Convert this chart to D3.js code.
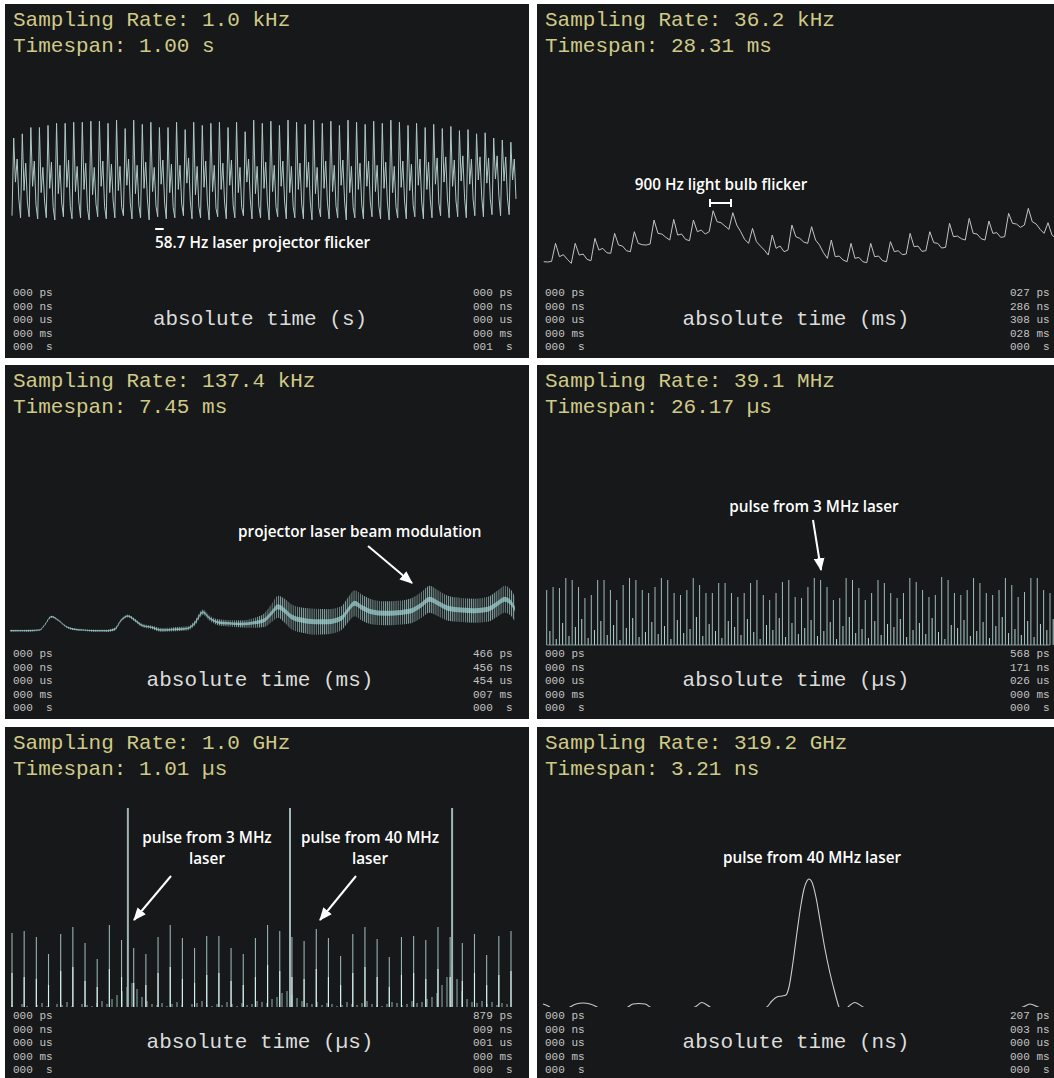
<!DOCTYPE html>
<html lang="en">
<head>
    <meta charset="UTF-8">
    <script src="https://d3js.org/d3.v7.min.js"></script>
    <title>Sampling rate zoom panels</title>
    <style>
        body { margin: 0; background: #ffffff; }
        svg { display: block; }
        .mono { font-family: "Liberation Mono", "DejaVu Sans Mono", monospace; white-space: pre; }
        .note { font-family: "Open Sans", "Noto Sans", sans-serif; font-weight: 600; font-size: 15.3px; fill: #ffffff; }
    </style>
</head>
<body>
<div id="viz"></div>
<script>
    // ---- panel texts
    let samplingRates = ["1.0 kHz", "36.2 kHz", "137.4 kHz", "39.1 MHz", "1.0 GHz", "319.2 GHz"];
    let timespans = ["1.00 s", "28.31 ms", "7.45 ms", "26.17 µs", "1.01 µs", "3.21 ns"];
    let axisUnits = ["s", "ms", "ms", "µs", "µs", "ns"];
    let stampUnits = ["ps", "ns", "us", "ms", " s"];
    let startStamps = ["000", "000", "000", "000", "000"];
    let endStamps = [
        ["000", "000", "000", "000", "001"],
        ["027", "286", "308", "028", "000"],
        ["466", "456", "454", "007", "000"],
        ["568", "171", "026", "000", "000"],
        ["879", "009", "001", "000", "000"],
        ["207", "003", "000", "000", "000"]
    ];

    // ---- panel 1 : 1 kHz capture, one row per flicker cycle (level 0-100)
    let p1Signal = [
        6,80,38,60,22, 4,84,30,56,18, 5,90,34,58,16, 3,90,28,52,20, 4,92,32,57,14,
        2,94,27,54,18, 5,94,33,59,15, 3,95,29,53,19, 4,95,31,56,13, 2,96,26,52,17,
        5,96,34,58,15, 3,94,28,55,20, 4,97,30,53,14, 6,89,35,60,18, 3,97,27,54,16,
        4,93,32,57,21, 2,95,29,52,15, 5,90,36,59,19, 3,90,28,55,14, 4,95,31,54,17,
        6,88,37,61,20, 3,95,26,53,15, 4,92,33,58,18, 2,94,29,54,13, 5,95,31,56,19,
        3,90,35,59,16, 4,95,28,52,14, 6,86,38,60,21, 3,97,27,53,15, 4,94,32,57,18,
        2,96,29,54,14, 5,92,34,58,20, 3,97,28,53,15, 4,95,31,56,17, 3,93,33,57,19,
        2,97,27,52,14, 5,94,32,58,18, 3,96,29,54,15, 4,92,35,59,20, 2,97,28,53,14,
        4,95,31,56,17, 3,93,34,58,19, 5,96,29,54,15, 3,94,32,57,18, 2,97,28,53,14,
        4,95,33,58,20, 3,92,30,55,16, 5,94,35,60,19, 3,90,31,57,21, 4,93,36,61,18,
        6,89,38,62,22, 4,91,34,59,20, 5,87,39,63,23, 4,88,36,60,21, 6,84,40,62,24,
        5,85,37,61,22, 7,80,41,63,25, 6,78,39,62,23, 7,76,40,60,22
    ];

    // ---- panel 2 : 36.2 kHz capture, light bulb flicker
    let p2Signal = [
        15,14,16,
        70,30,36,22,10,  70,35,38,22,18,  85,50,55,42,40,  100,65,62,48,45,
        105,70,66,65,68, 140,100,98,88,80, 142,95,98,82,78, 140,105,110,98,105,
        168,135,132,122,112, 162,125,105,82,70, 115,75,62,50,35, 95,55,62,45,50,
        125,90,85,74,70, 120,80,65,42,25, 80,30,32,20,15, 70,25,28,15,12,
        70,30,32,18,15, 75,45,48,36,38, 100,60,62,46,48, 105,72,70,56,58,
        130,90,92,84,80, 145,100,98,84,80, 137,100,102,88,90, 160,130,128,118,125,
        175,135,128,112,100, 132,95,85,78,70
    ];

    // ---- panel 3 : 137.4 kHz capture, slow bumps + laser modulation band (ms, px)
    let p3Time = [0, 0.266, 0.438, 0.511, 0.610, 0.708, 0.831, 0.954, 1.077, 1.249,
        1.446, 1.544, 1.643, 1.741, 1.839, 1.938, 2.085, 2.233, 2.429, 2.626,
        2.724, 2.847, 2.946, 3.068, 3.216, 3.413, 3.610, 3.757, 3.856, 3.954,
        4.052, 4.150, 4.298, 4.495, 4.691, 4.888, 4.986, 5.085, 5.183, 5.330,
        5.528, 5.724, 5.921, 6.068, 6.191, 6.314, 6.461, 6.658, 6.855, 7.051,
        7.199, 7.298, 7.396, 7.45];
    let p3Center = [1.3, 1.3, 2.0, 7.0, 15.3, 12.0, 5.3, 2.7, 2.0, 1.3,
        1.3, 2.7, 12.0, 16.0, 12.0, 7.0, 4.7, 2.0, 2.7, 3.7,
        8.7, 19.7, 13.7, 9.7, 8.7, 8.0, 9.3, 12.0, 18.7, 25.3,
        21.3, 15.3, 12.0, 10.3, 10.3, 13.7, 22.0, 28.7, 24.7, 20.3,
        18.7, 19.3, 21.3, 27.0, 32.7, 28.7, 23.7, 22.0, 21.3, 22.7,
        28.7, 32.7, 28.7, 22.7];
    let p3Spread = [1, 1, 1, 1, 1, 1, 1, 1, 1, 1,
        1.2, 1.5, 1.5, 1.5, 1.6, 1.8, 1.8, 2, 2, 2.2,
        2.5, 2.8, 2.8, 3, 3.2, 3.5, 5, 7, 9, 11,
        12, 12.5, 12.5, 13, 12.5, 12, 12.5, 13, 13, 12.5,
        12, 12, 12.5, 13, 13.5, 13, 12.5, 12, 12, 12.5,
        13, 13.5, 13, 12.5];
    let p3Core = [0.6, 0.6, 0.6, 0.6, 0.6, 0.6, 0.6, 0.6, 0.6, 0.6,
        0.7, 0.7, 0.7, 0.7, 0.7, 0.8, 0.8, 0.8, 0.9, 0.9,
        1, 1, 1, 1.1, 1.2, 1.3, 1.6, 1.9, 2.2, 2.5,
        2.5, 2.5, 2.5, 2.5, 2.5, 2.5, 2.5, 2.5, 2.5, 2.5,
        2.5, 2.5, 2.5, 2.5, 2.5, 2.5, 2.5, 2.5, 2.5, 2.5,
        2.5, 2.5, 2.5, 2.5];

    // ---- panel 4 : 39.1 MHz capture, pulse heights (px above baseline)
    let p4Pulses = [55,58,57,67,65,58,47,50,65,65, 55,45,60,67,65,55,52,58,67,65,
        52,50,55,67,60,52,52,62,62,52, 48,52,62,65,50,45,52,63,65,48,
        47,58,67,65,58,45,47,67,65,57, 45,52,65,62,52,47,52,67,63,55,
        48,50,68,65,52,50,55,67,62,52, 50,55,67,60,48,53,67,67,55,52];
    let p4Minor = [14,6,22,9,18,26,7,15,24,10, 20,5,17,27,8,13,23,11,19,6,
        25,12,16,28,9,21,14,7,24,18, 10,26,13,6,20,15,27,8,22,11,
        17,25,9,14,23,6,19,28,12,16, 7,24,10,21,18,26,8,15,22,11,
        27,13,6,20,17,25,9,14,23,7, 19,28,12,16,10,24,8,21,15,26];

    // ---- panel 5 : 1.0 GHz capture
    let p5Pulses = [74,76,70,53,73,80,64,48,82,67, 59,53,70,82,69,59,71,71,59,53,
        69,82,76,70,66,78,69,51,73,80, 68,50,70,71,67,80,70,64,73,52, 71,76];
    let p5Inner = [34,30,28,22,36,40,26,20,38,30, 24,22,34,40,28,24,32,34,26,22,
        30,42,36,30,28,38,30,22,34,40, 30,20,32,34,28,38,30,26,34,22, 32,36];
    let p5TallTimes = [0.238, 0.571, 0.904];
    let p5TallLevels = [199, 199, 199];
    let p5Fuzz = [2,0,3,1,0,2,4,1,0,3, 2,5,1,0,3,2,1,4,6,3,
        8,12,16,20,24,18,10,6,
        3,2,4,1,3,5,2,0,3,4, 6,2,1,3,2,5,3,1,4,2, 3,6,5,4,8,
        10,14,16,12,9,6,4,
        3,5,2,4,3,1,2,5,3,2, 4,6,3,2,1,3,5,4,2,3, 6,4,5,8,10,
        14,22,30,45,28,16,8,
        5,4,6,3,5,2,4,3];

    // ---- panel 6 : 319.2 GHz capture (ns, px above baseline)
    let p6Time = [0.000,0.031,0.081,0.124,0.167,0.205,0.248,0.292,0.335,0.378,
        0.440,0.490,0.527,0.558,0.595,0.633,0.664,0.726,0.800,0.881,
        0.943,0.986,1.036,1.098,1.191,1.284,1.358,1.389,1.420,1.451,
        1.483,1.507,1.526,1.551,1.575,1.600,1.619,1.637,1.650,1.668,
        1.693,1.718,1.749,1.780,1.811,1.836,1.861,1.892,1.935,1.985,
        2.059,2.214,2.401,2.587,2.773,2.897,2.977,3.021,3.071,3.145, 3.207];
    let p6Level = [3,1,-4,-4,0,3,4,3,0,-5,
        -6,-3,0,3,3.5,3,0,-6,-6,-2,
        0,4.5,0,-6,-8,-5,-2,0,6,10,
        11,12,20,45,74,102,118,126,128,125,
        110,87,58,34,14,0,-6,0,4.5,0,
        -6,-9,-8,-6,-5,-3,0,3,0,-4, -5];

    // ---- layout
    let colX = [5, 537], rowY = [4, 365, 727], colW = [524, 530], panelH = 354;
    let stampRightX = [468, 473];
    let axisLabelX = [255, 259];

    let svg = d3.select("#viz").append("svg")
        .attr("width", 1054)
        .attr("height", 1078);
    let defs = svg.append("defs");

    defs.append("marker")
        .attr("id", "arrowhead")
        .attr("markerUnits", "userSpaceOnUse")
        .attr("viewBox", "0 0 12 10")
        .attr("refX", 11).attr("refY", 5)
        .attr("markerWidth", 13).attr("markerHeight", 11)
        .attr("orient", "auto")
        .append("path")
        .attr("d", "M0,0 L12,5 L0,10 z")
        .attr("fill", "#ffffff");

    defs.append("pattern")
        .attr("id", "stripes")
        .attr("patternUnits", "userSpaceOnUse")
        .attr("width", 2.1).attr("height", 10)
        .append("rect")
        .attr("width", 0.9).attr("height", 10)
        .attr("fill", "#86a4a4");

    // build the six panels (background, headers, timestamps, axis label)
    let panels = samplingRates.map(function(rate, i) {
        let col = i % 2, row = Math.floor(i / 2);
        defs.append("clipPath").attr("id", "clip" + i)
            .append("rect").attr("width", colW[col]).attr("height", panelH);

        let g = svg.append("g")
            .attr("transform", "translate(" + colX[col] + "," + rowY[row] + ")")
            .attr("clip-path", "url(#clip" + i + ")");

        g.append("rect")
            .attr("width", colW[col])
            .attr("height", panelH)
            .attr("fill", "#161819");

        g.append("text").attr("class", "mono")
            .attr("x", 8).attr("y", 22)
            .style("font-size", "21px").attr("fill", "#cfca88")
            .text("Sampling Rate: " + rate);
        g.append("text").attr("class", "mono")
            .attr("x", 8).attr("y", 48)
            .style("font-size", "21px").attr("fill", "#cfca88")
            .text("Timespan: " + timespans[i]);

        stampUnits.forEach(function(u, k) {
            g.append("text").attr("class", "mono")
                .attr("x", 8).attr("y", 292 + k * 13.5)
                .style("font-size", "11px").attr("fill", "#c4c4c4")
                .text(startStamps[k] + " " + u);
            g.append("text").attr("class", "mono")
                .attr("x", stampRightX[col]).attr("y", 292 + k * 13.5)
                .style("font-size", "11px").attr("fill", "#c4c4c4")
                .text(endStamps[i][k] + " " + u);
        });

        g.append("text").attr("class", "mono")
            .attr("x", axisLabelX[col]).attr("y", 321)
            .attr("text-anchor", "middle")
            .style("font-size", "21px").attr("fill", "#dcdcdc")
            .text("absolute time (" + axisUnits[i] + ")");
        return g;
    });

    let arrow = function(g, x1, y1, x2, y2) {
        g.append("line")
            .attr("x1", x1).attr("y1", y1).attr("x2", x2).attr("y2", y2)
            .attr("stroke", "#ffffff").attr("stroke-width", 2)
            .attr("marker-end", "url(#arrowhead)");
    };
    let note = function(g, x, y, txt, anchor) {
        g.append("text").attr("class", "note")
            .attr("x", x).attr("y", y)
            .attr("text-anchor", anchor || "middle")
            .text(txt);
    };

    // ---- panel 1
    let x1 = d3.scaleLinear().domain([0, p1Signal.length - 1]).range([7, 511]);
    let t1 = d3.scaleLinear().domain([0, 1]).range([7, 511]);
    let y1 = d3.scaleLinear().domain([0, 100]).range([218, 113]);
    panels[0].append("path")
        .datum(p1Signal)
        .attr("d", d3.line().x(function(d, i) { return x1(i); }).y(function(d) { return y1(d); }))
        .attr("fill", "none")
        .attr("stroke", "#aec8c8")
        .attr("stroke-width", 1);
    panels[0].append("line")
        .attr("x1", t1(0.284)).attr("x2", t1(0.284 + 1 / 58.7))
        .attr("y1", 225).attr("y2", 225)
        .attr("stroke", "#ffffff").attr("stroke-width", 2);
    note(panels[0], 150, 244, "58.7 Hz laser projector flicker", "start");

    // ---- panel 2
    let x2 = d3.scaleLinear().domain([0, p2Signal.length - 1]).range([6.7, 6.7 + 132 * 3.94]);
    let y2 = d3.scaleLinear().domain([0, 180]).range([262.7, 202.7]);
    panels[1].append("path")
        .datum(p2Signal)
        .attr("d", d3.line().x(function(d, i) { return x2(i); }).y(function(d) { return y2(d); }))
        .attr("fill", "none")
        .attr("stroke", "#bfc5c5")
        .attr("stroke-width", 1);
    note(panels[1], 184, 186, "900 Hz light bulb flicker");
    panels[1].append("path")
        .attr("d", "M173,195V203M173,199H194M194,195V203")
        .attr("fill", "none").attr("stroke", "#ffffff").attr("stroke-width", 2);

    // ---- panel 3
    let x3 = d3.scaleLinear().domain([0, 7.45]).range([5, 510]);
    let y3 = d3.scaleLinear().domain([0, 40]).range([267, 227]);
    let p3Rows = p3Time.map(function(t, i) {
        return {t: t, c: p3Center[i], s: p3Spread[i], k: p3Core[i]};
    });
    panels[2].append("path")
        .datum(p3Rows)
        .attr("d", d3.area().curve(d3.curveMonotoneX)
            .x(function(d) { return x3(d.t); })
            .y0(function(d) { return y3(d.c - d.s); })
            .y1(function(d) { return y3(d.c + d.s); }))
        .attr("fill", "url(#stripes)");
    panels[2].append("path")
        .datum(p3Rows)
        .attr("d", d3.area().curve(d3.curveMonotoneX)
            .x(function(d) { return x3(d.t); })
            .y0(function(d) { return y3(d.c - d.k); })
            .y1(function(d) { return y3(d.c + d.k); }))
        .attr("fill", "#9fd3d3")
        .attr("opacity", 0.7);
    note(panels[2], 233, 172, "projector laser beam modulation", "start");
    arrow(panels[2], 363, 181, 407, 218);

    // ---- panel 4
    let x4 = d3.scaleLinear().domain([0, p4Pulses.length - 1]).range([9.7, 513]);
    let y4 = d3.scaleLinear().domain([0, 70]).range([280, 210]);
    panels[3].append("line")
        .attr("x1", x4(0)).attr("x2", x4(p4Pulses.length - 1))
        .attr("y1", y4(0)).attr("y2", y4(0))
        .attr("stroke", "#6f8888").attr("stroke-width", 1);
    panels[3].selectAll(".minor4")
        .data(p4Minor).enter().append("line")
        .attr("x1", function(d, i) { return x4(i + 0.5); })
        .attr("x2", function(d, i) { return x4(i + 0.5); })
        .attr("y1", y4(0))
        .attr("y2", function(d) { return y4(d); })
        .attr("stroke", "#b6d6d6").attr("stroke-width", 1);
    panels[3].selectAll(".pulse4")
        .data(p4Pulses).enter().append("line")
        .attr("x1", function(d, i) { return x4(i); })
        .attr("x2", function(d, i) { return x4(i); })
        .attr("y1", y4(0))
        .attr("y2", function(d) { return y4(d); })
        .attr("stroke", "#a0bcbc").attr("stroke-width", 1);
    note(panels[3], 277, 147, "pulse from 3 MHz laser");
    arrow(panels[3], 276, 155, 284, 205);

    // ---- panel 5
    let x5 = d3.scaleLinear().domain([0, 1.025]).range([7, 506]);
    let f5 = d3.scaleLinear().domain([0, p5Fuzz.length - 1]).range([7, 502]);
    let y5 = d3.scaleLinear().domain([0, 200]).range([280, 80]);
    panels[4].selectAll(".fuzz5")
        .data(p5Fuzz).enter().append("line")
        .attr("x1", function(d, i) { return f5(i); })
        .attr("x2", function(d, i) { return f5(i); })
        .attr("y1", y5(0))
        .attr("y2", function(d) { return y5(d); })
        .attr("stroke", "#8fb0b0").attr("stroke-width", 1);
    panels[4].selectAll(".pulse5")
        .data(p5Pulses).enter().append("line")
        .attr("x1", function(d, i) { return x5(i * 0.025); })
        .attr("x2", function(d, i) { return x5(i * 0.025); })
        .attr("y1", y5(0))
        .attr("y2", function(d) { return y5(d); })
        .attr("stroke", "#98b2b2").attr("stroke-width", 1.1);
    panels[4].selectAll(".inner5")
        .data(p5Inner).enter().append("line")
        .attr("x1", function(d, i) { return x5(i * 0.025); })
        .attr("x2", function(d, i) { return x5(i * 0.025); })
        .attr("y1", y5(0))
        .attr("y2", function(d) { return y5(d); })
        .attr("stroke", "#d8f2f2").attr("stroke-width", 1.1);
    panels[4].selectAll(".tall5")
        .data(p5TallLevels).enter().append("line")
        .attr("x1", function(d, i) { return x5(p5TallTimes[i]); })
        .attr("x2", function(d, i) { return x5(p5TallTimes[i]); })
        .attr("y1", y5(0))
        .attr("y2", function(d) { return y5(d); })
        .attr("stroke", "#9fb6b6").attr("stroke-width", 2);
    note(panels[4], 202, 116, "pulse from 3 MHz");
    note(panels[4], 202, 137, "laser");
    arrow(panels[4], 166, 149, 129, 193);
    note(panels[4], 365, 116, "pulse from 40 MHz");
    note(panels[4], 365, 137, "laser");
    arrow(panels[4], 351, 149, 315, 193);

    // ---- panel 6
    let x6 = d3.scaleLinear().domain([0, 3.207]).range([6, 523]);
    let y6 = d3.scaleLinear().domain([0, 130]).range([280, 150]);
    defs.append("clipPath").attr("id", "clipWave6")
        .append("rect").attr("width", 530).attr("height", y6(0));
    panels[5].append("path")
        .datum(p6Time)
        .attr("clip-path", "url(#clipWave6)")
        .attr("d", d3.line().curve(d3.curveMonotoneX)
            .x(function(d) { return x6(d); })
            .y(function(d, i) { return y6(p6Level[i]); }))
        .attr("fill", "none")
        .attr("stroke", "#c8cece")
        .attr("stroke-width", 1.1);
    note(panels[5], 275, 136, "pulse from 40 MHz laser");
</script>
</body>
</html>
